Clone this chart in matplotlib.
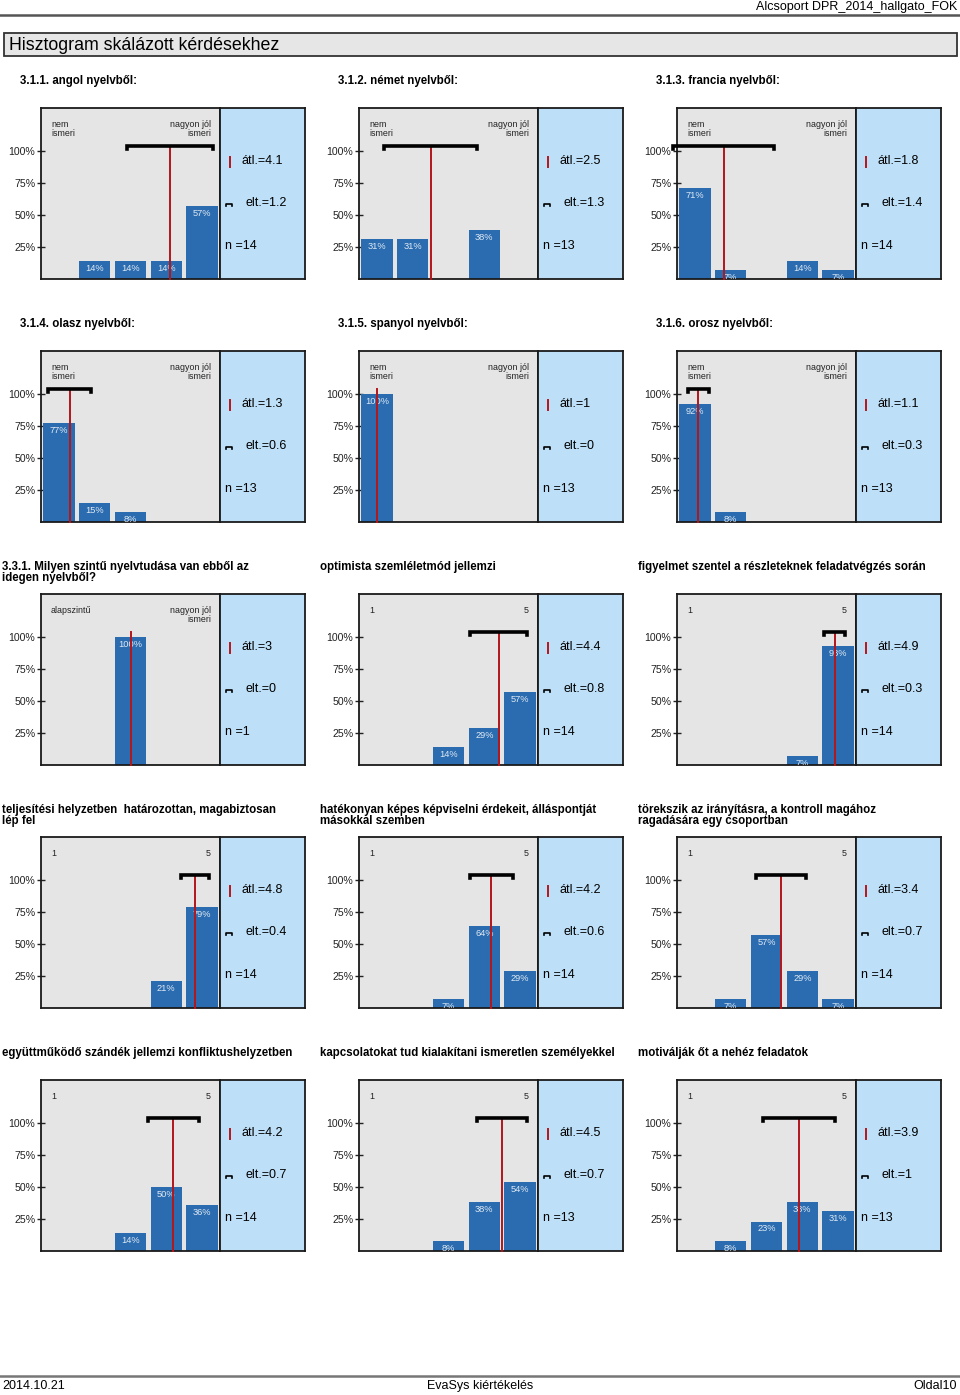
import matplotlib
matplotlib.use("Agg")
import matplotlib.pyplot as plt
from matplotlib.patches import Rectangle

plt.rcParams['font.family'] = ['Liberation Sans', 'DejaVu Sans']

# --- data -------------------------------------------------------------
titles = [
    "3.1.1. angol nyelvből:",
    "3.1.2. német nyelvből:",
    "3.1.3. francia nyelvből:",
    "3.1.4. olasz nyelvből:",
    "3.1.5. spanyol nyelvből:",
    "3.1.6. orosz nyelvből:",
    "3.3.1. Milyen szintű nyelvtudása van ebből az\nidegen nyelvből?",
    "optimista szemléletmód jellemzi",
    "figyelmet szentel a részleteknek feladatvégzés során",
    "teljesítési helyzetben  határozottan, magabiztosan\nlép fel",
    "hatékonyan képes képviselni érdekeit, álláspontját\nmásokkal szemben",
    "törekszik az irányításra, a kontroll magához\nragadására egy csoportban",
    "együttműködő szándék jellemzi konfliktushelyzetben",
    "kapcsolatokat tud kialakítani ismeretlen személyekkel",
    "motiválják őt a nehéz feladatok",
]
pcts = [
    [0, 14, 14, 14, 57],
    [31, 31, 0, 38, 0],
    [71, 7, 0, 14, 7],
    [77, 15, 8, 0, 0],
    [100, 0, 0, 0, 0],
    [92, 8, 0, 0, 0],
    [0, 0, 100, 0, 0],
    [0, 0, 14, 29, 57],
    [0, 0, 0, 7, 93],
    [0, 0, 0, 21, 79],
    [0, 0, 7, 64, 29],
    [0, 7, 57, 29, 7],
    [0, 0, 14, 50, 36],
    [0, 0, 8, 38, 54],
    [0, 8, 23, 38, 31],
]
means = [4.1, 2.5, 1.8, 1.3, 1, 1.1, 3, 4.4, 4.9, 4.8, 4.2, 3.4, 4.2, 4.5, 3.9]
sds = [1.2, 1.3, 1.4, 0.6, 0, 0.3, 0, 0.8, 0.3, 0.4, 0.6, 0.7, 0.7, 0.7, 1]
ns = [14, 13, 14, 13, 13, 13, 1, 14, 14, 14, 14, 14, 14, 13, 13]
low_labels = ["nem\nismeri"] * 6 + ["alapszintű"] + ["1"] * 8
high_labels = ["nagyon jól\nismeri"] * 7 + ["5"] * 8
scale = [1, 2, 3, 4, 5]

# --- layout (pixels) ---------------------------------------------------
W, H = 960, 1395
fig = plt.figure(figsize=(W / 100, H / 100), dpi=100)


def fx(x):
    return x / W


def fy(y):
    return 1 - y / H


row_tops = [108, 351, 594, 837, 1080]
col_lefts = [41, 359, 677]
pw, bw, ph = 179, 85, 171

bar_c = '#2b6cb0'
red = '#b3161b'
gray_bg = '#e5e5e5'
blue_bg = '#bddff7'

# header
fig.text(fx(957), fy(7), "Alcsoport DPR_2014_hallgato_FOK", ha='right', va='center', fontsize=9)
fig.add_artist(plt.Line2D([0, 1], [fy(15), fy(15)], color='#555555', lw=1.8))
fig.add_artist(Rectangle((fx(4), fy(56)), fx(953), 23 / H, facecolor='#e6e6e6',
                         edgecolor='#333333', lw=1.3))
fig.text(fx(9), fy(45), "Hisztogram skálázott kérdésekhez", ha='left', va='center', fontsize=12.8)

# footer
fig.add_artist(plt.Line2D([0, 1], [fy(1376), fy(1376)], color='#777777', lw=1.8))
fig.text(fx(2), fy(1386), "2014.10.21", ha='left', va='center', fontsize=9)
fig.text(fx(480), fy(1386), "EvaSys kiértékelés", ha='center', va='center', fontsize=9)
fig.text(fx(957), fy(1386), "Oldal10", ha='right', va='center', fontsize=9)

for i in range(len(titles)):
    r, c = divmod(i, 3)
    top = row_tops[r]
    left = col_lefts[c]
    indent = 21 if r < 2 else 39
    fig.text(fx(left - indent), fy(top - 33), titles[i], ha='left', va='top',
             fontsize=8.3, fontweight='bold', linespacing=0.9)

    ax = fig.add_axes([fx(left), fy(top + ph), pw / W, ph / H])
    ax.set_facecolor(gray_bg)
    ax.set_xlim(0.5, 5.5)
    ax.set_ylim(0, 133.6)
    ax.bar(scale, pcts[i], width=0.88, color=bar_c, zorder=2)
    for x, v in zip(scale, pcts[i]):
        if v > 0:
            ax.text(x, v - 2.2, f"{v}%", ha='center', va='top', fontsize=6.7,
                    color='#dfe9f3', zorder=3, clip_on=True)
    m, s = means[i], sds[i]
    ax.plot([m, m], [0, 103.6], color=red, lw=1.4, zorder=4, clip_on=False)
    if s > 0:
        ax.plot([m - s, m - s, m + s, m + s], [101.8, 103.6, 103.6, 101.8],
                color='black', lw=2.6, zorder=5, clip_on=False,
                solid_joinstyle='miter')
    ax.text(0.056, 0.93, low_labels[i], transform=ax.transAxes, ha='left',
            va='top', fontsize=6.4, color='#222222', linespacing=0.95)
    ax.text(0.95, 0.93, high_labels[i], transform=ax.transAxes, ha='right',
            va='top', fontsize=6.4, color='#222222', multialignment='right',
            linespacing=0.95)
    ax.set_xticks([])
    ax.set_yticks([25, 50, 75, 100])
    ax.set_yticklabels(["25%", "50%", "75%", "100%"])
    ax.tick_params(axis='y', direction='inout', length=6, width=1,
                   labelsize=7.6, pad=1, colors='#222222')
    for sp in ax.spines.values():
        sp.set_linewidth(1.3)
        sp.set_color('#1a1a1a')

    bx = fig.add_axes([fx(left + pw), fy(top + ph), bw / W, ph / H])
    bx.set_facecolor(blue_bg)
    bx.set_xlim(0, bw)
    bx.set_ylim(0, ph)
    bx.set_xticks([])
    bx.set_yticks([])
    for sp in bx.spines.values():
        sp.set_linewidth(1.3)
        sp.set_color('#1a1a1a')
    bx.plot([10, 10], [112, 122], color=red, lw=1.4)
    bx.text(22, 118, f"átl.={m:g}", ha='left', va='center', fontsize=9)
    bx.plot([5.5, 5.5, 12, 12], [73, 75, 75, 73], color='black', lw=1.2)
    bx.text(26, 76, f"elt.={s:g}", ha='left', va='center', fontsize=9)
    bx.text(5, 33, f"n ={ns[i]}", ha='left', va='center', fontsize=9)

fig.savefig("out.png", dpi=100)
